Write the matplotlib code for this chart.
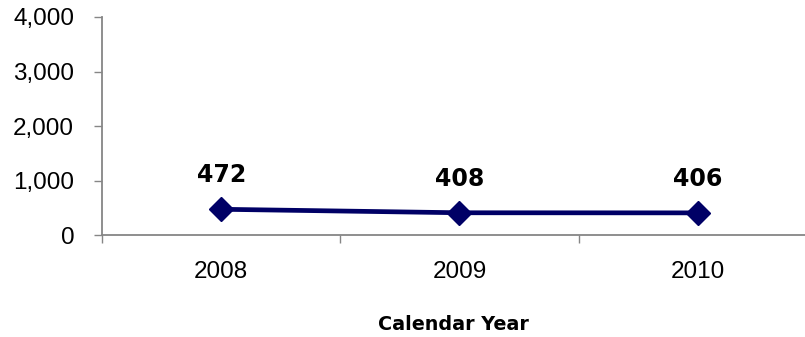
import matplotlib.pyplot as plt
from matplotlib.ticker import FuncFormatter

years = ['2008', '2009', '2010']
counts = [472, 408, 406]
yticks = [0, 1000, 2000, 3000, 4000]

navy = '#000066'
grey = '#868686'

fig = plt.figure(figsize=(8.05, 3.37), dpi=100)
# axes box in pixels: left 102, x-axis line at 235, top 17
ax = fig.add_axes([102 / 805, (337 - 235) / 337, (805 - 102) / 805, (235 - 17) / 337])

x = list(range(len(years)))
ax.plot(x, counts, color=navy, linewidth=3.4, marker='D', markersize=12.5, zorder=3, clip_on=False)

for xi, c in zip(x, counts):
    ax.annotate(f'{c:,}', (xi, c), xytext=(0, 16), textcoords='offset points',
                ha='center', va='bottom', fontsize=17, fontweight='bold',
                family='DejaVu Sans', color='black')

ax.set_yticks(yticks)
ax.yaxis.set_major_formatter(FuncFormatter(lambda v, p: f'{int(v):,}'))

# category labels sit between the boundary ticks
ax.set_xticks([-0.5, 0.5, 1.5, 2.5])
ax.set_xticklabels([])
ax.set_xticks(x, minor=True)
ax.set_xticklabels(years, minor=True)
ax.set_xlim(-0.5, 2.45)
ax.set_ylim(0, 4000)

ax.tick_params(axis='x', which='minor', length=0, pad=19, labelsize=17.5)
ax.tick_params(axis='x', which='major', length=6, color=grey, width=1)
ax.tick_params(axis='y', length=6, color=grey, width=1, labelsize=17.5, pad=14)

for lab in ax.get_yticklabels() + ax.get_xticklabels(minor=True):
    lab.set_family('Liberation Sans')

for s in ['top', 'right']:
    ax.spines[s].set_visible(False)
for s in ['left', 'bottom']:
    ax.spines[s].set_color(grey)
    ax.spines[s].set_linewidth(1.3)

ax.set_xlabel('Calendar Year', fontsize=13.8, fontweight='bold', family='DejaVu Sans', labelpad=23)

fig.savefig('out.png', dpi=100)
